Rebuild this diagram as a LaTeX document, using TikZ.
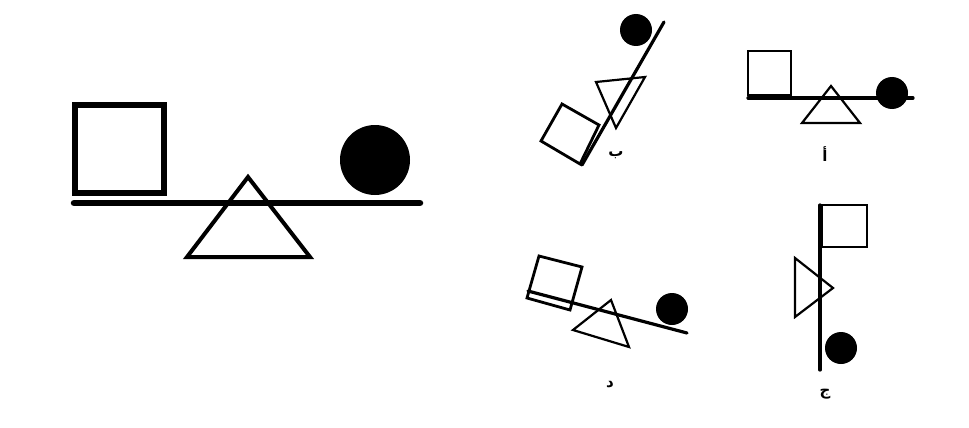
\documentclass[tikz,border=0pt]{standalone}
\usepackage{fontspec}
\newfontfamily\arabicfont[Script=Arabic]{DejaVu Sans}
\TeXXeTstate=1
\begin{document}
\begin{tikzpicture}[
  x=1pt, y=-1pt,
  barra/.style={draw=black, line width=6.5pt, line cap=round},
  caja/.style={draw=black, line width=5.5pt, line join=miter},
  apoyo/.style={draw=black, line width=4pt, line join=miter},
  bola/.style={fill=black},
  barrach/.style={draw=black, line width=3.2pt, line cap=round},
  cajach/.style={draw=black, line width=2.8pt, line join=miter},
  apoyoch/.style={draw=black, line width=2.2pt, line join=miter},
  etiqueta/.style={font=\arabicfont\bfseries\fontsize{15}{15}\selectfont, inner sep=0pt}
]
\useasboundingbox (0,0) rectangle (969,428);
% figura grande
\draw[caja] (75,105) rectangle (164,193);
\draw[barra] (74,203) -- (420,203);
\draw[apoyo] (248,177) -- (187,257) -- (310,257) -- cycle;
\fill[bola] (375,160) circle (35);
% a
\draw[cajach] (748,51) rectangle (791,95);
\draw[barrach] (748,98) -- (913,98);
\draw[apoyoch] (831,86) -- (802,123) -- (860,123) -- cycle;
\fill[bola] (892,93) circle (16);
\node[etiqueta] (a) at (825,154) {\beginR أ\endR};
% b
\fill[bola] (636,30) circle (16);
\draw[barrach] (664,22) -- (582,165);
\draw[apoyoch] (596,82) -- (645,77) -- (616,128) -- cycle;
\draw[cajach] (562,104) -- (599,125) -- (580,164) -- (541,141) -- cycle;
\node[etiqueta] (b) at (616,155) {\beginR ب\endR};
% d
\draw[cajach] (539,256) -- (582,267) -- (570,310) -- (527,298) -- cycle;
\draw[barrach] (528,291) -- (687,333);
\draw[apoyoch] (611,300) -- (573,330) -- (629,347) -- cycle;
\fill[bola] (672,309) circle (16);
\node[etiqueta] (d) at (610,385) {\beginR د\endR};
% j
\draw[barrach] (820,205) -- (820,370);
\draw[cajach] (822,205) rectangle (867,247);
\draw[apoyoch] (795,258) -- (833,288) -- (795,317) -- cycle;
\fill[bola] (841,348) circle (16);
\node[etiqueta] (j) at (825,394) {\beginR ج\endR};
\end{tikzpicture}
\end{document}
